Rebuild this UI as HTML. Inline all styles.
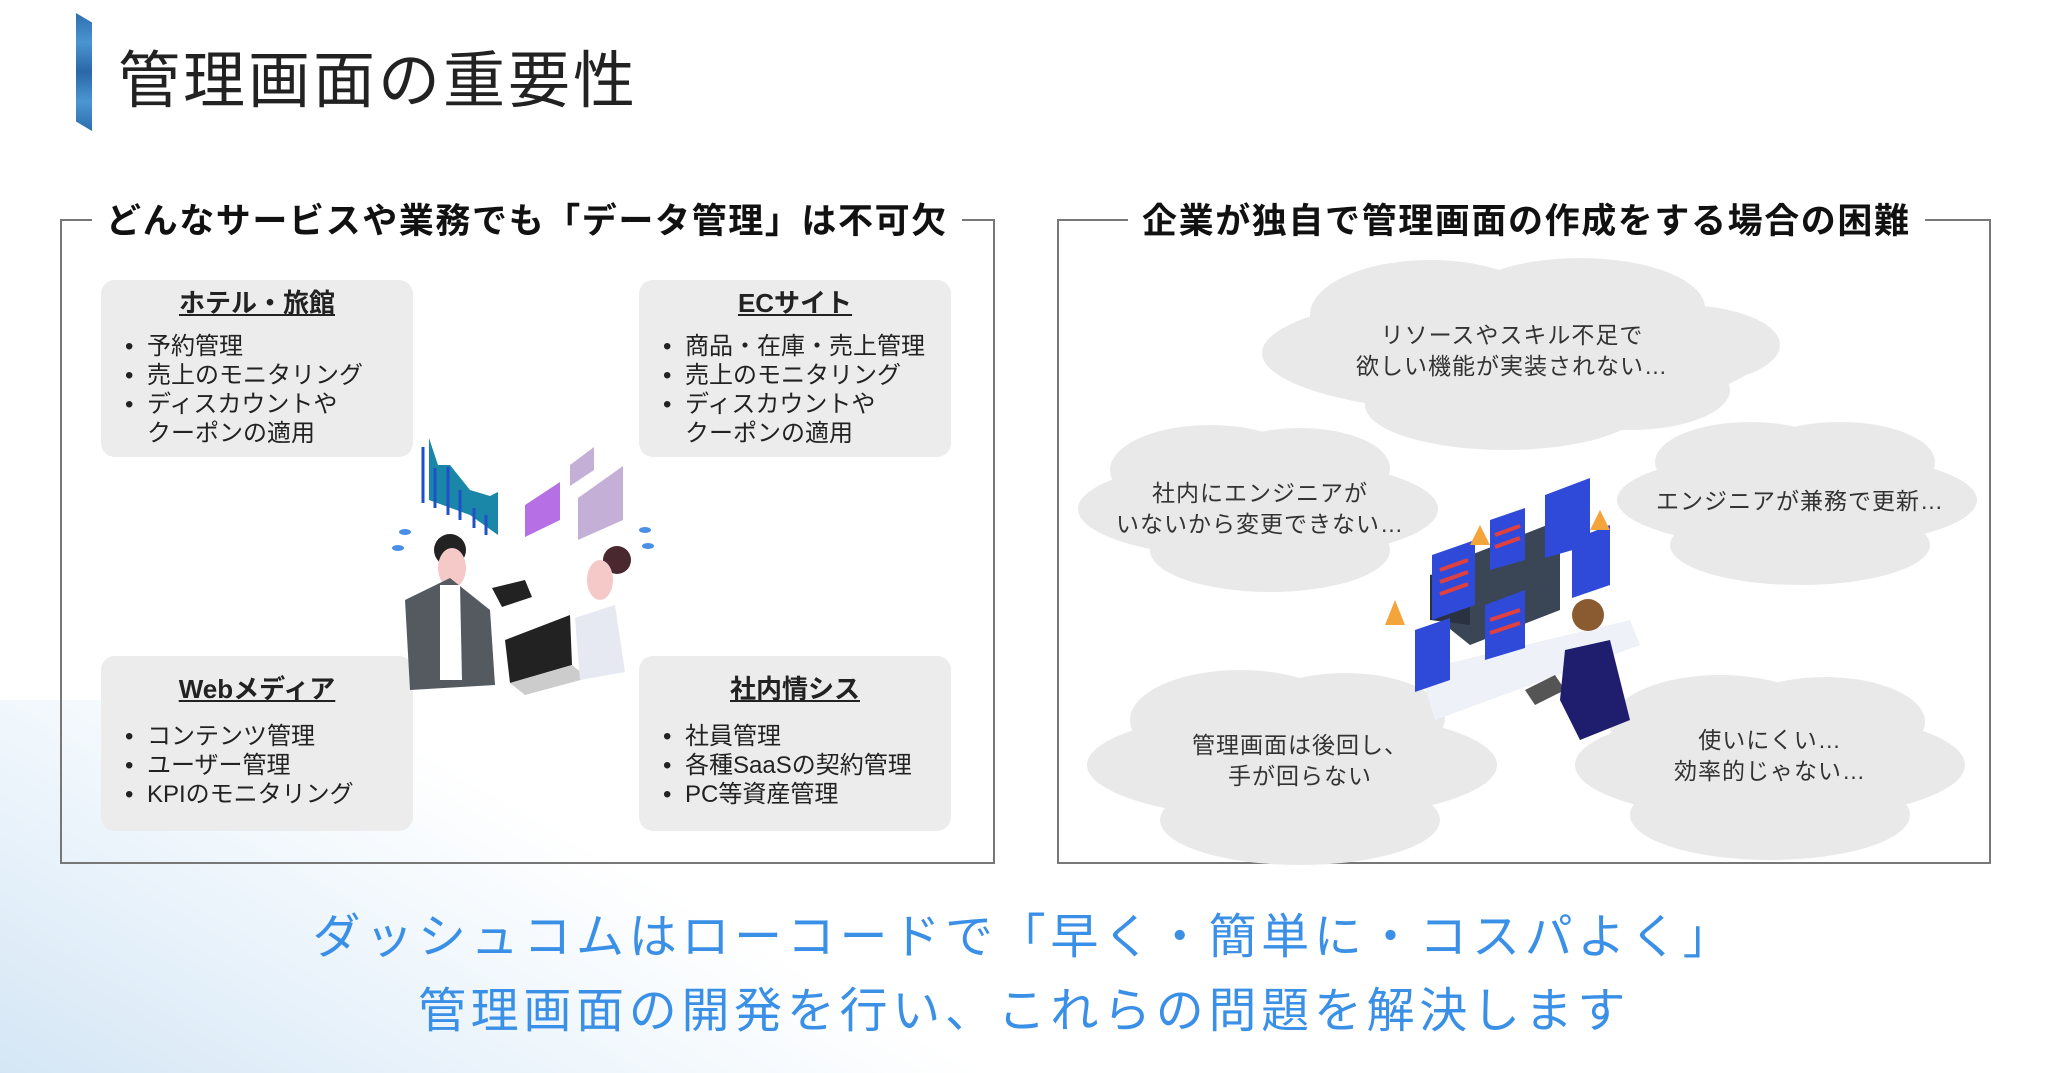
<!DOCTYPE html>
<html><head><meta charset="utf-8">
<style>
html,body{margin:0;padding:0}
body{width:2048px;height:1073px;position:relative;overflow:hidden;background:#fff;font-family:"Liberation Sans","Noto Sans CJK JP",sans-serif;color:#222}
.abs{position:absolute}
.bg{left:0;top:700px;width:1000px;height:373px;background:linear-gradient(30deg,rgba(170,205,235,.5) 0%,rgba(200,225,245,.3) 35%,rgba(255,255,255,0) 60%)}
.bar{left:76px;top:13px;width:16px;height:118px;background:linear-gradient(180deg,#2f6fb0,#4a94d2,#2a67a8,#4b96d3,#2d6cae);clip-path:polygon(0 0,100% 8%,100% 100%,0 92%)}
.title{left:118px;top:30px;font-size:62px;letter-spacing:3px;color:#222;font-weight:400}
.box{border:2px solid #777;}
.head{font-size:35px;font-weight:700;background:#fff;padding:0 14px;white-space:nowrap;color:#111;letter-spacing:1.6px}
.card{background:#ececec;border-radius:14px;width:312px}
.card h3{margin:0;text-align:center;font-size:26px;font-weight:700;text-decoration:underline;padding-top:6px;line-height:34px}
.card ul{margin:12px 0 0 0;padding:0 0 0 46px;font-size:24px;line-height:29px}
.card.b h3{padding-top:16px}
.card.b ul{margin-top:16px}
.card li{list-style:none;position:relative}
.card li:before{content:"•";position:absolute;left:-22px}
.cloudtxt{font-size:23px;text-align:center;line-height:31px;color:#333;white-space:nowrap;letter-spacing:1px}
.bottom{left:0;width:2048px;text-align:center;font-size:48px;color:#3a8fe6;letter-spacing:4.7px}
</style></head><body>
<div class="abs bg"></div>
<div class="abs bar"></div>
<div class="abs title">管理画面の重要性</div>

<div class="abs box" style="left:60px;top:219px;width:931px;height:641px"></div>
<div class="abs head" style="left:92px;top:193px">どんなサービスや業務でも「データ管理」は不可欠</div>
<div class="abs box" style="left:1057px;top:219px;width:930px;height:641px"></div>
<div class="abs head" style="left:1128px;top:193px">企業が独自で管理画面の作成をする場合の困難</div>

<div class="abs card" style="left:101px;top:280px;height:177px"><h3>ホテル・旅館</h3><ul><li>予約管理</li><li>売上のモニタリング</li><li>ディスカウントや<br>クーポンの適用</li></ul></div>
<div class="abs card" style="left:639px;top:280px;height:177px"><h3>ECサイト</h3><ul><li>商品・在庫・売上管理</li><li>売上のモニタリング</li><li>ディスカウントや<br>クーポンの適用</li></ul></div>
<div class="abs card b" style="left:101px;top:656px;height:175px"><h3>Webメディア</h3><ul><li>コンテンツ管理</li><li>ユーザー管理</li><li>KPIのモニタリング</li></ul></div>
<div class="abs card b" style="left:639px;top:656px;height:175px"><h3>社内情シス</h3><ul><li>社員管理</li><li>各種SaaSの契約管理</li><li>PC等資産管理</li></ul></div>

<svg class="abs" style="left:0;top:0" width="2048" height="1073">
 <polygon points="429,438 438,465 450,465 470,490 490,496 498,492 498,535 470,515 429,500" fill="#1a87a8"/>
 <g stroke="#2050c8" stroke-width="3"><line x1="423" y1="447" x2="423" y2="503"/><line x1="435" y1="468" x2="435" y2="508"/><line x1="448" y1="467" x2="448" y2="515"/><line x1="460" y1="490" x2="460" y2="520"/><line x1="474" y1="508" x2="474" y2="528"/><line x1="486" y1="515" x2="486" y2="535"/></g>
 <polygon points="525,505 560,482 560,520 525,537" fill="#b76fe6"/>
 <polygon points="570,465 594,447 594,470 570,486" fill="#c4b0d6"/>
 <polygon points="578,498 623,466 623,520 578,540" fill="#c4b0d6"/>
 <circle cx="450" cy="550" r="16" fill="#222"/>
 <ellipse cx="452" cy="568" rx="14" ry="20" fill="#f6c9c9"/>
 <path d="M405,600 L450,578 L490,610 L495,685 L410,690 Z" fill="#555a60"/>
 <path d="M440,585 L460,585 L462,680 L440,680 Z" fill="#fff"/>
 <polygon points="492,588 525,580 532,597 502,607" fill="#222"/>
 <polygon points="505,640 570,615 572,665 510,683" fill="#222"/>
 <polygon points="510,683 572,665 588,678 525,695" fill="#ccc"/>
 <circle cx="617" cy="560" r="14" fill="#4a2830"/>
 <ellipse cx="600" cy="580" rx="13" ry="20" fill="#f6c9c9"/>
 <path d="M575,618 L615,605 L625,672 L580,680 Z" fill="#e6e8f2"/>
 <g fill="#4a8fe6"><ellipse cx="405" cy="532" rx="6" ry="3"/><ellipse cx="398" cy="548" rx="6" ry="3"/><ellipse cx="645" cy="530" rx="6" ry="3"/><ellipse cx="648" cy="546" rx="6" ry="3"/></g>
 <g fill="#e9e9e9">
  <g><ellipse cx="1512" cy="353" rx="250" ry="62"/><ellipse cx="1430" cy="315" rx="120" ry="55"/><ellipse cx="1580" cy="308" rx="125" ry="50"/><ellipse cx="1505" cy="405" rx="140" ry="45"/><ellipse cx="1630" cy="390" rx="100" ry="40"/><ellipse cx="1680" cy="345" rx="100" ry="40"/></g>
  <g><ellipse cx="1258" cy="509" rx="180" ry="50"/><ellipse cx="1210" cy="470" rx="100" ry="45"/><ellipse cx="1300" cy="468" rx="90" ry="40"/><ellipse cx="1270" cy="550" rx="120" ry="42"/></g>
  <g><ellipse cx="1797" cy="500" rx="180" ry="48"/><ellipse cx="1750" cy="462" rx="95" ry="40"/><ellipse cx="1840" cy="462" rx="95" ry="40"/><ellipse cx="1800" cy="545" rx="130" ry="40"/></g>
  <g><ellipse cx="1292" cy="765" rx="205" ry="55"/><ellipse cx="1240" cy="720" rx="110" ry="50"/><ellipse cx="1345" cy="718" rx="100" ry="45"/><ellipse cx="1300" cy="820" rx="140" ry="45"/></g>
  <g><ellipse cx="1770" cy="765" rx="195" ry="55"/><ellipse cx="1720" cy="725" rx="110" ry="50"/><ellipse cx="1825" cy="722" rx="100" ry="45"/><ellipse cx="1770" cy="815" rx="140" ry="45"/></g>
 </g>
 <polygon points="1420,670 1630,620 1640,645 1435,720" fill="#eef1f8"/>
 <polygon points="1445,565 1560,520 1560,610 1470,645 1445,625" fill="#3a4656"/>
 <polygon points="1430,575 1470,565 1470,625 1430,620" fill="#2a3140"/>
 <g fill="#2f4ad8"><polygon points="1432,555 1475,540 1475,605 1432,620"/><polygon points="1490,520 1525,508 1525,560 1490,570"/><polygon points="1485,605 1525,590 1525,648 1485,660"/><polygon points="1415,630 1450,618 1450,680 1415,692"/><polygon points="1545,495 1590,478 1590,545 1545,558"/><polygon points="1572,540 1610,525 1610,585 1572,598"/></g>
 <g stroke="#e04040" stroke-width="4"><line x1="1440" y1="570" x2="1468" y2="560"/><line x1="1440" y1="582" x2="1468" y2="572"/><line x1="1440" y1="594" x2="1468" y2="584"/><line x1="1495" y1="535" x2="1520" y2="526"/><line x1="1495" y1="547" x2="1520" y2="538"/><line x1="1490" y1="620" x2="1520" y2="610"/><line x1="1490" y1="633" x2="1520" y2="623"/></g>
 <g fill="#f3a43a"><polygon points="1395,600 1405,625 1385,625"/><polygon points="1480,525 1490,545 1470,545"/><polygon points="1600,510 1610,530 1590,530"/></g>
 <polygon points="1525,690 1555,675 1565,690 1535,705" fill="#555"/>
 <circle cx="1588" cy="615" r="16" fill="#8a5a30"/>
 <path d="M1565,650 L1610,640 L1630,720 L1580,740 L1560,700 Z" fill="#1f1d6e"/>
</svg>

<div class="abs cloudtxt" style="left:1312px;top:320px;width:400px">リソースやスキル不足で<br>欲しい機能が実装されない…</div>
<div class="abs cloudtxt" style="left:1060px;top:478px;width:400px">社内にエンジニアが<br>いないから変更できない…</div>
<div class="abs cloudtxt" style="left:1600px;top:486px;width:400px">エンジニアが兼務で更新…</div>
<div class="abs cloudtxt" style="left:1100px;top:730px;width:400px">管理画面は後回し、<br>手が回らない</div>
<div class="abs cloudtxt" style="left:1570px;top:725px;width:400px">使いにくい…<br>効率的じゃない…</div>

<div class="abs bottom" style="top:897px">ダッシュコムはローコードで「早く・簡単に・コスパよく」</div>
<div class="abs bottom" style="top:971px">管理画面の開発を行い、これらの問題を解決します</div>
</body></html>
